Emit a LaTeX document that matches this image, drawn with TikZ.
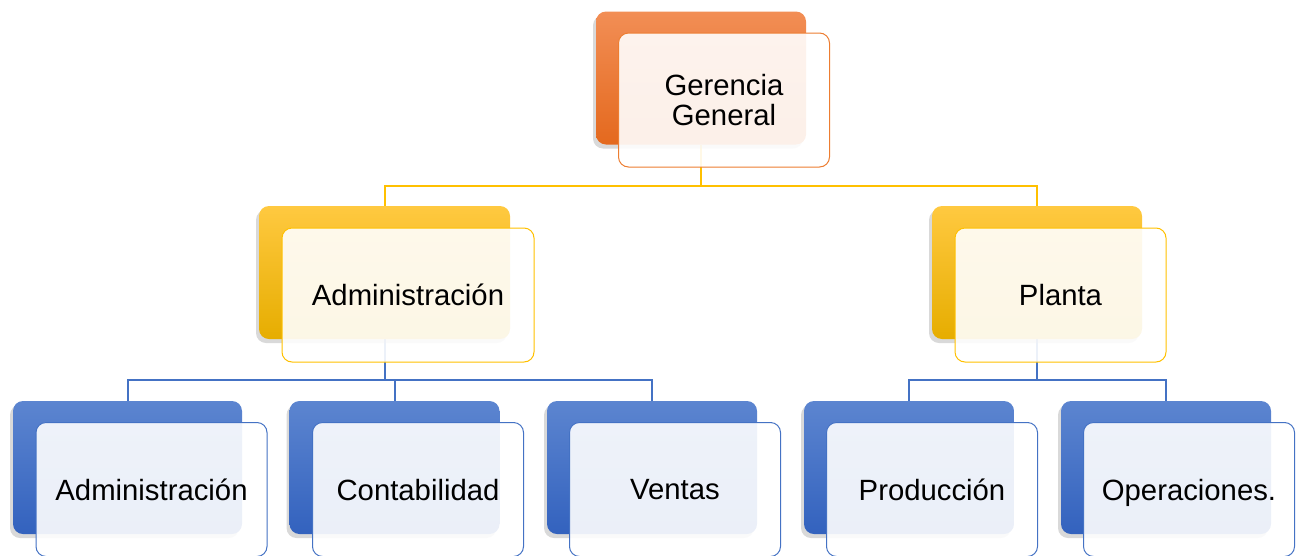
\documentclass[tikz,border=0pt]{standalone}
\usepackage{fontspec}
\setmainfont{Liberation Sans}
\usetikzlibrary{
    backgrounds,
    positioning,
    shadows
}

\definecolor{naranja}{HTML}{ED7D31}
\definecolor{naranjaA}{HTML}{F28E55}
\definecolor{naranjaB}{HTML}{E4691E}
\definecolor{amarillo}{HTML}{FFC000}
\definecolor{amarilloA}{HTML}{FFC940}
\definecolor{amarilloB}{HTML}{E6AD00}
\definecolor{azul}{HTML}{4472C4}
\definecolor{azulA}{HTML}{5C85D0}
\definecolor{azulB}{HTML}{3362BE}

\tikzset{
    caja/.style={rectangle, rounded corners=10pt, minimum width=210pt, minimum height=133pt,
        drop shadow={shadow xshift=-3pt, shadow yshift=-4pt, opacity=.3}},
    cajaN/.style={caja, top color=naranjaA, bottom color=naranjaB},
    cajaA/.style={caja, top color=amarilloA, middle color=amarillo, bottom color=amarilloB},
    cajaZ/.style={caja, top color=azulA, bottom color=azulB},
    tarjeta/.style={rectangle, rounded corners=10pt, minimum width=211pt, minimum height=134pt,
        fill=white, fill opacity=.9, text opacity=1, line width=1pt, align=center,
        text depth=0pt, font=\fontsize{29.3}{30}\selectfont},
    enlaceA/.style={amarillo, line width=2pt},
    enlaceZ/.style={azul, line width=2pt}
}

\begin{document}
\begin{tikzpicture}[x=1pt, y=-1pt]
    \useasboundingbox (0,0) rectangle (1296,555);

    % Gerencia
    \node[cajaN] (gg) at (701,78) {};
    \node[tarjeta, draw=naranja] (ggt) at (724,100) {Gerencia\\General};

    % Segundo nivel
    \node[cajaA, minimum width=251pt] (adm) at (384.5,272.5) {};
    \node[tarjeta, draw=amarillo, minimum width=252pt] (admt) at (408,295) {Administración};
    \node[cajaA] (pla) at (1037,272.5) {};
    \node[tarjeta, draw=amarillo] (plat) at (1060.5,295) {Planta};

    % Tercer nivel
    \node[cajaZ, minimum width=229pt] (ad) at (127.5,467.5) {};
    \node[tarjeta, draw=azul, minimum width=231pt] (adt) at (151.5,489.5) {Administración};
    \node[cajaZ] (con) at (394.5,467.5) {};
    \node[tarjeta, draw=azul] (cont) at (418,489.5) {Contabilidad};
    \node[cajaZ] (ven) at (652,467.5) {};
    \node[tarjeta, draw=azul] (vent) at (675,489.5) {Ventas};
    \node[cajaZ] (pro) at (909,467.5) {};
    \node[tarjeta, draw=azul] (prot) at (932,489.5) {Producción};
    \node[cajaZ] (ope) at (1166,467.5) {};
    \node[tarjeta, draw=azul] (opet) at (1189,489.5) {Operaciones.};

    % Conectores
    \coordinate (bus1) at (701,186);
    \coordinate (bus2) at (384.5,380);
    \coordinate (bus3) at (1037,380);
    \begin{scope}[on background layer]
        \draw[enlaceA] (gg.south) -- (bus1);
        \draw[enlaceA] (adm.north) |- (bus1) -| (pla.north);
        \draw[enlaceZ] (adm.south) -- (bus2);
        \draw[enlaceZ] (ad.north) |- (bus2) -| (ven.north);
        \draw[enlaceZ] (bus2) -| (con.north);
        \draw[enlaceZ] (pla.south) -- (bus3);
        \draw[enlaceZ] (pro.north) |- (bus3) -| (ope.north);
    \end{scope}
\end{tikzpicture}
\end{document}
